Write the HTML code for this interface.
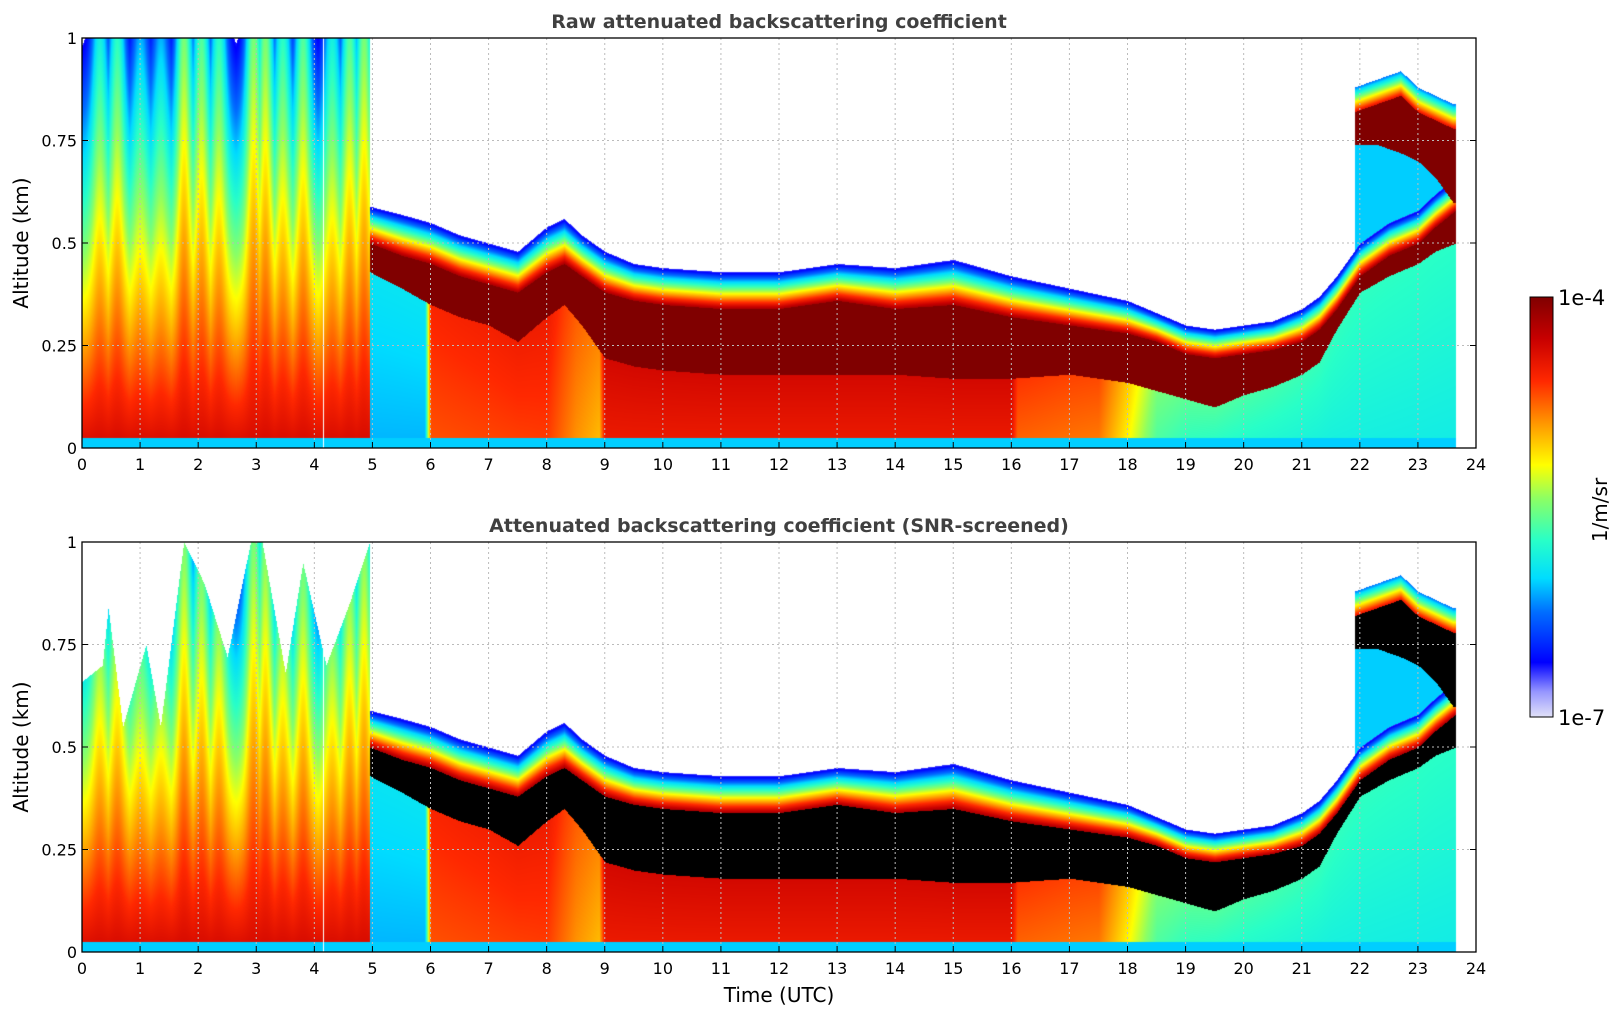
<!DOCTYPE html>
<html><head><meta charset="utf-8">
<style>
body{margin:0;background:#fff;width:1621px;height:1020px;position:relative;overflow:hidden;font-family:"DejaVu Sans","Liberation Sans",sans-serif}
canvas{position:absolute}
svg{position:absolute;left:0;top:0}
</style></head>
<body>
<canvas id="c1" width="1394" height="410" style="left:82px;top:38px"></canvas>
<canvas id="c2" width="1394" height="410" style="left:82px;top:542px"></canvas>
<svg id="ov" width="1621" height="1020"></svg>
<script>
// ---- data (hours / km / normalized log backscatter 0..1) ----
const cloudTimes = [4.95,5.5,6,6.5,7,7.5,8,8.3,8.6,9,9.5,10,11,12,13,14,15,16,17,18,18.5,19,19.5,20,20.5,21,21.3,21.6,22,22.5,23,23.3,23.65];
const cloudTop   = [0.50,0.47,0.45,0.42,0.40,0.38,0.43,0.45,0.42,0.38,0.36,0.35,0.34,0.34,0.36,0.34,0.35,0.32,0.30,0.28,0.26,0.23,0.22,0.23,0.24,0.26,0.29,0.34,0.42,0.47,0.50,0.54,0.58];
const cloudBase  = [0.43,0.39,0.35,0.32,0.30,0.26,0.32,0.35,0.30,0.22,0.20,0.19,0.18,0.18,0.18,0.18,0.17,0.17,0.18,0.16,0.14,0.12,0.10,0.13,0.15,0.18,0.21,0.29,0.38,0.42,0.45,0.48,0.50];
const fringe     = [0.09,0.10,0.10,0.10,0.10,0.10,0.11,0.11,0.10,0.10,0.09,0.09,0.09,0.09,0.09,0.10,0.11,0.10,0.09,0.08,0.07,0.07,0.07,0.07,0.07,0.08,0.08,0.08,0.08,0.08,0.08,0.08,0.08];
const belowTimes = [4.95,5.9,6.0,8.0,8.5,8.9,9.0,16,16.1,17.5,18,18.5,19,21.5,23.65];
const belowVal   = [0.30,0.30,0.76,0.78,0.70,0.66,0.83,0.83,0.74,0.72,0.60,0.45,0.42,0.38,0.37];
const upperTimes = [21.9,22.3,22.7,23.0,23.3,23.6];
const upperBase  = [0.74,0.74,0.72,0.70,0.66,0.60];
const upperTop   = [0.82,0.84,0.86,0.82,0.80,0.78];
const plumePeaks = [0.3,0.6,1.0,1.35,1.75,2.05,2.35,2.95,3.15,3.45,3.8,4.3,4.6,4.85];
const plumeAmp   = [0.7,0.8,0.5,0.5,1.0,0.9,0.8,1.0,1.0,0.8,0.9,0.7,0.9,1.0];
const screenTimes= [0,0.35,0.45,0.7,1.0,1.1,1.35,1.75,2.1,2.5,2.9,3.1,3.5,3.8,4.2,4.6,4.95];
const screenTop  = [0.66,0.70,0.84,0.55,0.70,0.75,0.55,1.0,0.90,0.72,1.0,1.0,0.68,0.95,0.70,0.85,1.0];
const xTicks = [0,1,2,3,4,5,6,7,8,9,10,11,12,13,14,15,16,17,18,19,20,21,22,23,24];
const yTicks = [0,0.25,0.5,0.75,1];
const yTickLabels = ["0","0.25","0.5","0.75","1"];

const W=1394,H=410;
const xS=t=>t/24*W, yS=z=>H-z*H;
function interp(xs,ys,x){if(x<=xs[0])return ys[0];for(let i=1;i<xs.length;i++){if(x<=xs[i]){const f=(x-xs[i-1])/(xs[i]-xs[i-1]);return ys[i-1]+f*(ys[i]-ys[i-1]);}}return ys[ys.length-1];}
const stops=[[0,[225,225,248]],[0.06,[150,150,255]],[0.13,[0,0,255]],[0.25,[0,110,255]],[0.33,[0,220,255]],[0.42,[40,255,200]],[0.52,[140,255,100]],[0.6,[255,255,0]],[0.7,[255,150,0]],[0.8,[255,40,0]],[0.9,[200,0,0]],[1,[128,0,0]]];
function cmap(v){v=Math.max(0,Math.min(1,v));for(let i=1;i<stops.length;i++){if(v<=stops[i][0]){const a=stops[i-1],b=stops[i],f=(v-a[0])/(b[0]-a[0]);return [0,1,2].map(k=>Math.round(a[1][k]+f*(b[1][k]-a[1][k])));}}return stops[stops.length-1][1];}
function val(t,z,screened){
  if(t>23.65)return null;
  if(z<0.025)return 0.32;
  if(t<4.95){
    let s=0;for(let i=0;i<plumePeaks.length;i++){s=Math.max(s,plumeAmp[i]*Math.exp(-Math.pow((t-plumePeaks[i])/0.16,2)));}
    if(screened&&z>interp(screenTimes,screenTop,t))return null;
    const v=0.88-z*(0.78-0.4*s);
    if(!screened&&v<0.12)return null;
    return v;
  }
  const top=interp(cloudTimes,cloudTop,t),base=interp(cloudTimes,cloudBase,t),fr=interp(cloudTimes,fringe,t);
  if(t>=21.9){const ub=interp(upperTimes,upperBase,t),ut=interp(upperTimes,upperTop,t);
    if(z>=ub&&z<=ut)return screened?-1:1.0;
    if(z>ut&&z<ut+0.06)return 0.85-(z-ut)/0.06*0.6;
    if(z>top+fr&&z<ub)return 0.32;}
  if(z<base)return interp(belowTimes,belowVal,t)+(z/base)*0.05;
  if(z<top)return screened?-1:1.0;
  if(z<top+fr)return 0.95-(z-top)/fr*0.85;
  return null;
}
function draw(id,screened){
  const ctx=document.getElementById(id).getContext('2d');const img=ctx.createImageData(W,H);
  for(let px=0;px<W;px++){const t=px/W*24;
    for(let py=0;py<H;py++){const z=(H-py)/H;const v=val(t,z,screened);const o=(py*W+px)*4;
      let c=[255,255,255];if(v===-1)c=[0,0,0];else if(v!==null)c=cmap(v);
      if(Math.abs(t-4.15)<0.01&&v!==null)c=[255,255,255];
      img.data[o]=c[0];img.data[o+1]=c[1];img.data[o+2]=c[2];img.data[o+3]=255;}}
  ctx.putImageData(img,0,0);
}
draw('c1',false);draw('c2',true);

const NS="http://www.w3.org/2000/svg",ov=document.getElementById('ov');
function el(tag,attrs,txt){const e=document.createElementNS(NS,tag);for(const k in attrs)e.setAttribute(k,attrs[k]);if(txt!==undefined)e.textContent=txt;ov.appendChild(e);return e;}
function axes(x0,y0,title,name,showX){
  for(const tk of xTicks){const x=x0+xS(tk);
    if(tk>0&&tk<24){const g=el('line',{x1:x,x2:x,y1:y0,y2:y0+H,stroke:'#bbb','stroke-dasharray':'2,3','stroke-width':1});}
    const m=el('line',{x1:x,x2:x,y1:y0+H,y2:y0+H-6,stroke:'#000'});
    const l=el('text',{x:x,y:y0+H+22,'text-anchor':'middle','font-size':16},String(tk));}
  yTicks.forEach((tk,i)=>{const y=y0+yS(tk);
    if(tk>0&&tk<1){const g=el('line',{x1:x0,x2:x0+W,y1:y,y2:y,stroke:'#bbb','stroke-dasharray':'2,3'});}
    const m=el('line',{x1:x0,x2:x0+6,y1:y,y2:y,stroke:'#000'});
    const m2=el('line',{x1:x0+W,x2:x0+W-6,y1:y,y2:y,stroke:'#000'});
    const l=el('text',{x:x0-5,y:y+6,'text-anchor':'end','font-size':16},yTickLabels[i]);});
  const f=el('rect',{x:x0,y:y0,width:W,height:H,fill:'none',stroke:'#000','stroke-width':1.3});
  const tt=el('text',{x:x0+W/2,y:y0-10,'text-anchor':'middle','font-size':19,'font-weight':'bold',fill:'#404040'},title);
  const yl=el('text',{x:0,y:0,'text-anchor':'middle','font-size':20,transform:`translate(28,${y0+H/2}) rotate(-90)`},'Altitude (km)');
  if(showX){const xl=el('text',{x:x0+W/2,y:y0+H+50,'text-anchor':'middle','font-size':20},'Time (UTC)');}
}
axes(82,38,'Raw attenuated backscattering coefficient','raw-panel',false);
axes(82,542,'Attenuated backscattering coefficient (SNR-screened)','screened-panel',true);
// colorbar
const defs=el('defs',{});const lg=document.createElementNS(NS,'linearGradient');lg.setAttribute('id','cb');lg.setAttribute('x1','0');lg.setAttribute('y1','1');lg.setAttribute('x2','0');lg.setAttribute('y2','0');defs.appendChild(lg);
for(const s of stops){const st=document.createElementNS(NS,'stop');st.setAttribute('offset',s[0]);st.setAttribute('stop-color',`rgb(${s[1].join(',')})`);lg.appendChild(st);}
const cb=el('rect',{x:1530,y:297,width:23,height:420,fill:'url(#cb)',stroke:'#000','stroke-width':1});
const c1=el('text',{x:1558,y:305,'font-size':21},'1e-4');
const c2=el('text',{x:1558,y:725,'font-size':21},'1e-7');
const cu=el('text',{x:0,y:0,'text-anchor':'middle','font-size':20,transform:'translate(1607,510) rotate(-90)'},'1/m/sr');
</script>
</body></html>
